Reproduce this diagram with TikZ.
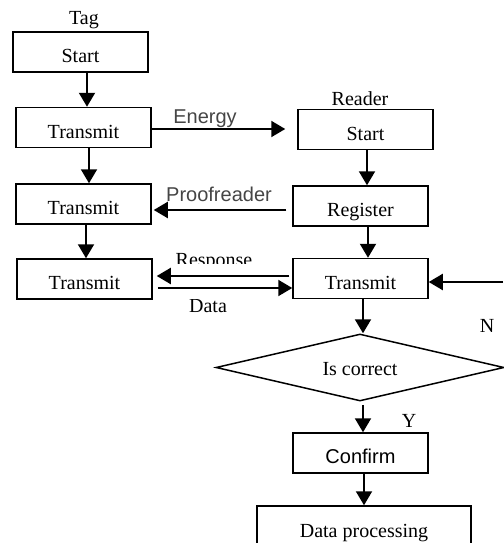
\documentclass[tikz,border=0pt]{standalone}
\usepackage{fontspec}
\setmainfont{Liberation Serif}
\newfontfamily\labsans{Liberation Sans}
\usetikzlibrary{arrows.meta,shapes.geometric}
\newcommand\sanslab{\labsans\fontsize{20}{24}\selectfont}
\definecolor{labgray}{rgb}{0.27,0.27,0.27}
\begin{document}
\begin{tikzpicture}[x=1pt,y=-1pt,font=\fontsize{20}{24}\selectfont,
  box/.style={draw, line width=1.5pt, minimum width=135pt, minimum height=40pt, inner sep=0pt, text height=21pt, text depth=0pt},
  dec/.style={draw, diamond, line width=1.5pt, aspect=4.3, minimum width=288pt, minimum height=67pt, inner sep=0pt, text height=16pt, text depth=0pt},
  lab/.style={anchor=base, inner sep=0pt},
  slab/.style={anchor=base, inner sep=0pt, font=\sanslab, text=labgray},
  arr/.style={line width=2pt, -{Triangle[length=14pt,width=16pt]}}]
\useasboundingbox (0,0) rectangle (503,543);
% tag column
\node[lab] (tag) at (84,25) {Tag};
\node[box] (tstart) at (80.5,52) {Start};
\node[box] (t1) at (83.5,127.5) {Transmit};
\node[box] (t2) at (83.5,204) {Transmit};
\node[box] (t3) at (84.5,279) {Transmit};
% reader column
\node[lab] (reader) at (360,105) {Reader};
\node[box] (rstart) at (365.5,129.5) {Start};
\node[box] (reg) at (360.5,206) {Register};
\node[box] (rt) at (360.5,278.5) {Transmit};
\node[dec] (dec) at (360,367.5) {Is correct};
\node[box, font=\sanslab, text height=20pt] (conf) at (360.5,453) {Confirm};
\node[box, minimum width=214pt, minimum height=60pt, text height=3pt, text depth=0pt] (dp) at (364,536) {Data processing};
% labels
\node[slab] (energy) at (205,123) {Energy};
\node[slab] (proof) at (219,201) {Proofreader};
\begin{scope}
\clip (150,230) rectangle (300,263.5);
\node[lab] (resp) at (214,266) {Response};
\end{scope}
\begin{scope}
\clip (150,299) rectangle (300,330);
\node[lab] (data) at (208,312) {Data};
\end{scope}
\node[lab] (nlab) at (487,332) {N};
\node[lab] (ylab) at (409,427) {Y};
% connectors
\draw[arr] ([xshift=6.5pt]tstart.south) -- ([xshift=3.5pt]t1.north);
\draw[arr] ([xshift=5.5pt]t1.south) -- ([xshift=5.5pt]t2.north);
\draw[arr] ([xshift=2.5pt]t2.south) -- ([xshift=1.5pt]t3.north);
\draw[arr, shorten >=12pt] ([yshift=-1.5pt]t1.east) -- ([yshift=0.5pt]rstart.west);
\draw[arr, shorten <=6pt, shorten >=2pt] ([yshift=-4pt]reg.west) -- ([yshift=-6pt]t2.east);
\draw[arr, shorten <=3pt, shorten >=4pt] ([yshift=2.5pt]rt.west) -- ([yshift=3pt]t3.east);
\draw[arr, shorten <=5pt] ([yshift=-9pt]t3.east) -- ([yshift=-9.5pt]rt.west);
\draw[arr] ([xshift=1.5pt]rstart.south) -- ([xshift=6.5pt]reg.north);
\draw[arr] ([xshift=7.5pt]reg.south) -- ([xshift=7.5pt]rt.north);
\coordinate (fb) at (503,282);
\draw[arr] (fb) -- (rt.east |- fb);
\draw[arr] ([xshift=2.5pt]rt.south) -- ([xshift=3pt]dec.north);
\draw[arr] ([xshift=3pt,yshift=-3pt]dec.south) -- ([xshift=2.5pt]conf.north);
\draw[arr] ([xshift=3.5pt]conf.south) -- (dp.north);
\end{tikzpicture}
\end{document}
